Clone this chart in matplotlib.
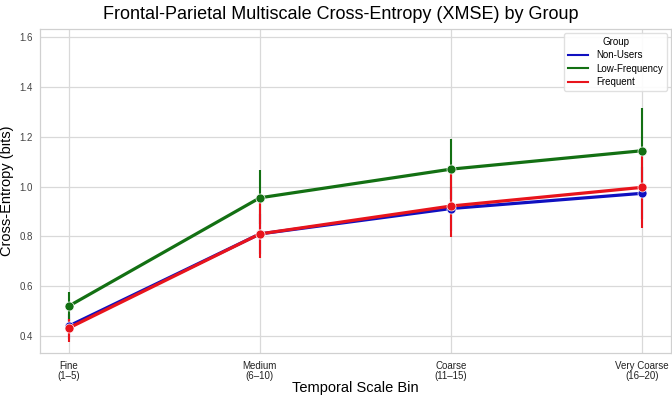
import matplotlib
matplotlib.use("Agg")
import matplotlib.pyplot as plt
import numpy as np
from matplotlib.lines import Line2D

categories = ["Fine\n(1–5)", "Medium\n(6–10)", "Coarse\n(11–15)", "Very Coarse\n(16–20)"]
groups = ["Non-Users", "Low-Frequency", "Frequent"]
colors = ["#1010c0", "#137013", "#e8141c"]

means = {
    "Non-Users":     [0.440, 0.810, 0.912, 0.973],
    "Low-Frequency": [0.520, 0.955, 1.070, 1.144],
    "Frequent":      [0.432, 0.810, 0.922, 0.997],
}
lower = {
    "Non-Users":     [0.390, 0.730, 0.820, 0.870],
    "Low-Frequency": [0.460, 0.850, 0.950, 0.990],
    "Frequent":      [0.377, 0.713, 0.796, 0.832],
}
upper = {
    "Non-Users":     [0.490, 0.890, 1.000, 1.080],
    "Low-Frequency": [0.578, 1.067, 1.190, 1.316],
    "Frequent":      [0.470, 0.950, 1.060, 1.150],
}

plt.rcParams['font.family'] = ['Liberation Sans', 'DejaVu Sans']

fig = plt.figure(figsize=(6.72, 3.99), dpi=100)
ax = fig.add_axes([0.0595, 0.1153, 0.939, 0.8117])

x = np.arange(len(categories))
for g, c in zip(groups, colors):
    m = np.array(means[g])
    lo = np.array(lower[g])
    hi = np.array(upper[g])
    ax.vlines(x, lo, hi, color=c, lw=1.5, zorder=3)
    ax.plot(x, m, color=c, lw=2.3, marker='o', ms=6.5,
            markeredgecolor='white', markeredgewidth=0.5, label=g, zorder=4)

ax.set_xlim(-0.15, 3.15)
ax.set_ylim(0.332, 1.632)
ax.set_xticks(x)
ax.set_xticklabels(categories, fontsize=7, color='#222222', linespacing=1.0)
ax.set_yticks([0.4, 0.6, 0.8, 1.0, 1.2, 1.4, 1.6])
ax.set_yticklabels(["0.4", "0.6", "0.8", "1.0", "1.2", "1.4", "1.6"], fontsize=7, color='#444444')
ax.tick_params(axis='y', length=0, pad=5)
ax.tick_params(axis='x', length=0, pad=6)
ax.grid(True, color='#d9d9d9', lw=0.9)
ax.set_axisbelow(True)
for s in ax.spines.values():
    s.set_color('#d0d0d0')
    s.set_linewidth(0.9)

ax.set_xlabel("Temporal Scale Bin", fontsize=10.5, labelpad=0)
ax.set_ylabel("Cross-Entropy (bits)", fontsize=10.5, labelpad=4)
ax.set_title("Frontal-Parietal Multiscale Cross-Entropy (XMSE) by Group", fontsize=13, pad=7, x=0.477)

handles = [Line2D([0], [0], color=c, lw=1.5) for c in colors]
leg = ax.legend(handles, groups, title="Group", loc='upper right', fontsize=7,
                title_fontsize=7, frameon=True, framealpha=0.9, edgecolor='#dddddd',
                borderpad=0.4, labelspacing=0.35, handlelength=2.0, handletextpad=0.9,
                borderaxespad=0.4)

fig.savefig("out.png", dpi=100)
